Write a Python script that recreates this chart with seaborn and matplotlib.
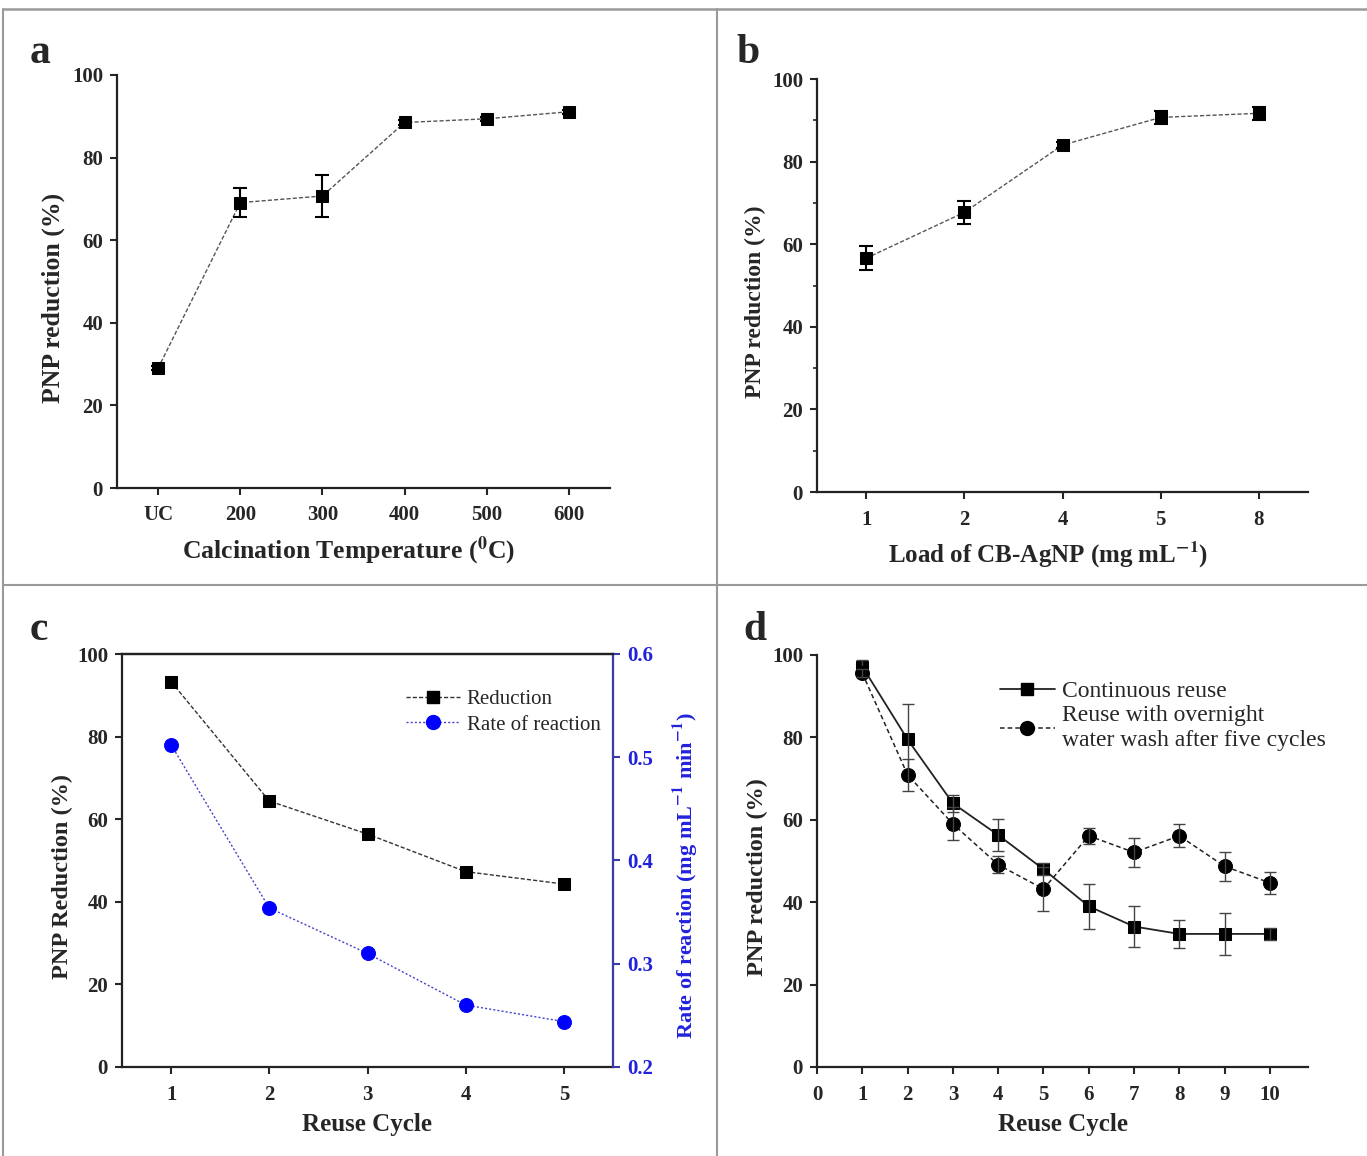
import matplotlib
matplotlib.use("Agg")
import matplotlib.pyplot as plt
import seaborn as sns
import pandas as pd
from matplotlib.lines import Line2D

# ---------------- data ----------------
a_categories = ["UC", "200", "300", "400", "500", "600"]
a_values = [29.0, 69.1, 70.7, 88.5, 89.4, 91.1]
a_errors = [0.5, 3.6, 5.2, 0.5, 0.5, 0.5]

b_categories = ["1", "2", "4", "5", "8"]
b_values = [56.6, 67.7, 84.0, 90.7, 91.7]
b_errors = [2.9, 2.8, 0.8, 1.6, 1.6]

c_cycles = [1, 2, 3, 4, 5]
c_reduction = [93.3, 64.4, 56.4, 47.3, 44.3]
c_rate = [0.512, 0.354, 0.310, 0.260, 0.244]

d_cycles = [1, 2, 3, 4, 5, 6, 7, 8, 9, 10]
d_continuous = [97.2, 79.5, 64.0, 56.3, 48.0, 39.0, 34.1, 32.3, 32.3, 32.3]
d_continuous_err = [1.5, 8.5, 2.0, 3.8, 1.5, 5.5, 5.0, 3.3, 5.0, 1.5]
d_overnight = [95.6, 70.9, 59.0, 49.1, 43.2, 56.1, 52.1, 56.1, 48.7, 44.7]
d_overnight_err = [1.0, 3.8, 4.0, 2.0, 5.3, 2.0, 3.6, 2.8, 3.5, 2.7]

# ---------------- style ----------------
sns.set_style("ticks")
plt.rcParams["font.family"] = ["Liberation Serif", "DejaVu Serif"]
plt.rcParams["mathtext.fontset"] = "stix"
plt.rcParams["mathtext.default"] = "bf"

W, H = 1367, 1156
fig = plt.figure(figsize=(W / 100, H / 100), dpi=100)


def px_axes(left, top, right, bottom):
    return fig.add_axes([left / W, 1 - bottom / H, (right - left) / W, (bottom - top) / H])


TICK_FS = 15
LAB_FS = 18


def style_axes(ax, color="#222222", xpad=8):
    for s in ["left", "bottom", "top", "right"]:
        ax.spines[s].set_linewidth(1.6)
        ax.spines[s].set_color(color)
    ax.tick_params(axis="both", which="major", direction="out", length=5, width=1.5,
                   labelsize=TICK_FS)
    ax.tick_params(axis="x", which="major", pad=xpad)
    ax.tick_params(axis="y", which="major", pad=5)
    for lab in ax.get_xticklabels() + ax.get_yticklabels():
        lab.set_fontweight("bold")


# ---------------- panel a ----------------
ax_a = px_axes(117, 75, 610, 488)
df_a = pd.DataFrame({"pos": range(len(a_categories)), "val": a_values})
sns.lineplot(data=df_a, x="pos", y="val", ax=ax_a, color="#555555", lw=1.0,
             linestyle=(0, (3, 1.5)), marker="s", markersize=9,
             markerfacecolor="black", markeredgecolor="black")
ax_a.errorbar(df_a["pos"], a_values, yerr=a_errors, fmt="none", ecolor="black",
              elinewidth=1.5, capsize=5, capthick=1.5)
ax_a.set_xlim(-0.5, 5.5)
ax_a.set_ylim(0, 100)
ax_a.set_xticks(range(len(a_categories)))
ax_a.set_xticklabels(a_categories)
ax_a.set_yticks([0, 20, 40, 60, 80, 100])
ax_a.set_xlabel("Calcination Temperature ($^{0}$C)", fontsize=LAB_FS + 0.5, fontweight="bold", labelpad=7)
ax_a.set_ylabel("PNP reduction (%)", fontsize=LAB_FS + 0.5, fontweight="bold", labelpad=5)
ax_a.xaxis.label.set_x(0.47)
ax_a.yaxis.label.set_y(0.46)
sns.despine(ax=ax_a)
style_axes(ax_a, xpad=7)

# ---------------- panel b ----------------
ax_b = px_axes(817, 79, 1308, 492)
df_b = pd.DataFrame({"pos": range(len(b_categories)), "val": b_values})
sns.lineplot(data=df_b, x="pos", y="val", ax=ax_b, color="#555555", lw=1.0,
             linestyle=(0, (3, 1.5)), marker="s", markersize=9,
             markerfacecolor="black", markeredgecolor="black")
ax_b.errorbar(df_b["pos"], b_values, yerr=b_errors, fmt="none", ecolor="black",
              elinewidth=1.5, capsize=5, capthick=1.5)
ax_b.set_xlim(-0.5, 4.5)
ax_b.set_ylim(0, 100)
ax_b.set_xticks(range(len(b_categories)))
ax_b.set_xticklabels(b_categories)
ax_b.set_yticks([0, 20, 40, 60, 80, 100])
ax_b.set_yticks([10, 30, 50, 70, 90], minor=True)
ax_b.tick_params(axis="y", which="minor", direction="out", length=3, width=1.2)
ax_b.set_xlabel("Load of CB-AgNP (mg mL$^{-1}$)", fontsize=LAB_FS, fontweight="bold", labelpad=7)
ax_b.set_ylabel("PNP reduction (%)", fontsize=LAB_FS - 1, fontweight="bold", labelpad=4)
ax_b.xaxis.label.set_x(0.47)
ax_b.yaxis.label.set_y(0.46)
sns.despine(ax=ax_b)
style_axes(ax_b)

# ---------------- panel c ----------------
ax_c = px_axes(122, 654, 613, 1067)
df_c = pd.DataFrame({"cycle": c_cycles, "red": c_reduction, "rate": c_rate})
sns.lineplot(data=df_c, x="cycle", y="red", ax=ax_c, color="#333333", lw=1.0,
             linestyle=(0, (3, 1.5)), marker="s", markersize=9,
             markerfacecolor="black", markeredgecolor="black", legend=False)
ax_c2 = ax_c.twinx()
sns.lineplot(data=df_c, x="cycle", y="rate", ax=ax_c2, color="#4444cc", lw=1.0,
             linestyle=(0, (1.5, 1.5)), marker="o", markersize=10,
             markerfacecolor="#0000ff", markeredgecolor="#0000ff", legend=False)
ax_c.set_xlim(0.5, 5.5)
ax_c.set_ylim(0, 100)
ax_c.set_xticks(c_cycles)
ax_c.set_yticks([0, 20, 40, 60, 80, 100])
ax_c2.set_ylim(0.2, 0.6)
ax_c2.set_yticks([0.2, 0.3, 0.4, 0.5, 0.6])
ax_c.set_xlabel("Reuse Cycle", fontsize=LAB_FS, fontweight="bold", labelpad=6)
ax_c.set_ylabel("PNP Reduction (%)", fontsize=LAB_FS - 0.5, fontweight="bold", labelpad=3)
ax_c.yaxis.label.set_y(0.462)
ax_c2.set_ylabel("Rate of reaction (mg mL$^{-1}$ min$^{-1}$)", fontsize=16,
                 fontweight="bold", color="#2222dd", labelpad=12)
ax_c2.yaxis.label.set_y(0.462)
style_axes(ax_c)
style_axes(ax_c2)
ax_c.spines["right"].set_visible(False)
ax_c.spines["top"].set_visible(True)
ax_c2.spines["top"].set_visible(True)
ax_c2.spines["top"].set_color("#222222")
for s in ["left", "bottom"]:
    ax_c2.spines[s].set_visible(False)
ax_c2.spines["right"].set_color("#3a3aa8")
ax_c2.tick_params(axis="y", colors="#3a3aa8", labelcolor="#2222dd")
for lab in ax_c2.get_yticklabels():
    lab.set_fontweight("bold")
h1 = Line2D([], [], color="#333333", lw=1.0, linestyle=(0, (3, 1.5)), marker="s",
            markersize=9, markerfacecolor="black", markeredgecolor="black")
h2 = Line2D([], [], color="#4444cc", lw=1.0, linestyle=(0, (1.5, 1.5)), marker="o",
            markersize=10, markerfacecolor="#0000ff", markeredgecolor="#0000ff")
ax_c.legend([h1, h2], ["Reduction", "Rate of reaction"], loc="upper right",
            bbox_to_anchor=(1.0, 0.945), frameon=False, fontsize=15, handlelength=2.6,
            handletextpad=0.3, labelspacing=0.3, borderaxespad=0.2)

# ---------------- panel d ----------------
ax_d = px_axes(817, 655, 1308, 1067)
df_d = pd.DataFrame({"cycle": d_cycles, "cont": d_continuous, "over": d_overnight})
sns.lineplot(data=df_d, x="cycle", y="cont", ax=ax_d, color="#222222", lw=1.3,
             linestyle="-", marker="s", markersize=9,
             markerfacecolor="black", markeredgecolor="black", legend=False)
ax_d.errorbar(d_cycles, d_continuous, yerr=d_continuous_err, fmt="none", ecolor="#444444",
              elinewidth=1.0, capsize=4, capthick=1.0)
sns.lineplot(data=df_d, x="cycle", y="over", ax=ax_d, color="#222222", lw=1.1,
             linestyle=(0, (3, 2)), marker="o", markersize=10,
             markerfacecolor="black", markeredgecolor="black", legend=False)
ax_d.errorbar(d_cycles, d_overnight, yerr=d_overnight_err, fmt="none", ecolor="#444444",
              elinewidth=1.0, capsize=4, capthick=1.0)
ax_d.set_xlim(0, 10.84)
ax_d.set_ylim(0, 100)
ax_d.set_xticks(range(0, 11))
ax_d.set_yticks([0, 20, 40, 60, 80, 100])
ax_d.set_xlabel("Reuse Cycle", fontsize=LAB_FS, fontweight="bold", labelpad=6)
ax_d.set_ylabel("PNP reduction (%)", fontsize=LAB_FS - 0.5, fontweight="bold", labelpad=3)
ax_d.yaxis.label.set_y(0.462)
sns.despine(ax=ax_d)
style_axes(ax_d)
hd1 = Line2D([], [], color="#222222", lw=1.3, linestyle="-", marker="s", markersize=9,
             markerfacecolor="black", markeredgecolor="black")
hd2 = Line2D([], [], color="#222222", lw=1.1, linestyle=(0, (3, 2)), marker="o",
             markersize=10, markerfacecolor="black", markeredgecolor="black")
ax_d.legend([hd1, hd2], ["Continuous reuse", "Reuse with overnight\nwater wash after five cycles"],
            loc="upper left", bbox_to_anchor=(0.33, 0.99), frameon=False, fontsize=17,
            handlelength=2.3, handletextpad=0.3, labelspacing=0.15)

# ---------------- panel letters ----------------
for letter, (x, y) in zip("abcd", [(30, 63), (736, 63), (30, 640), (743, 640)]):
    fig.text(x / W, 1 - y / H, letter, fontsize=30, fontweight="bold", ha="left", va="baseline")

# ---------------- panel divider lines ----------------
gray = "#9a9a9a"
fig.add_artist(Line2D([3 / W, 3 / W], [0, 1 - 9 / H], color=gray, lw=1.5))
fig.add_artist(Line2D([3 / W, 1], [1 - 9 / H, 1 - 9 / H], color=gray, lw=1.8))
fig.add_artist(Line2D([717 / W, 717 / W], [0, 1 - 9 / H], color=gray, lw=1.5))
fig.add_artist(Line2D([3 / W, 1], [1 - 585 / H, 1 - 585 / H], color=gray, lw=1.5))

fig.savefig("out.png", dpi=100)
